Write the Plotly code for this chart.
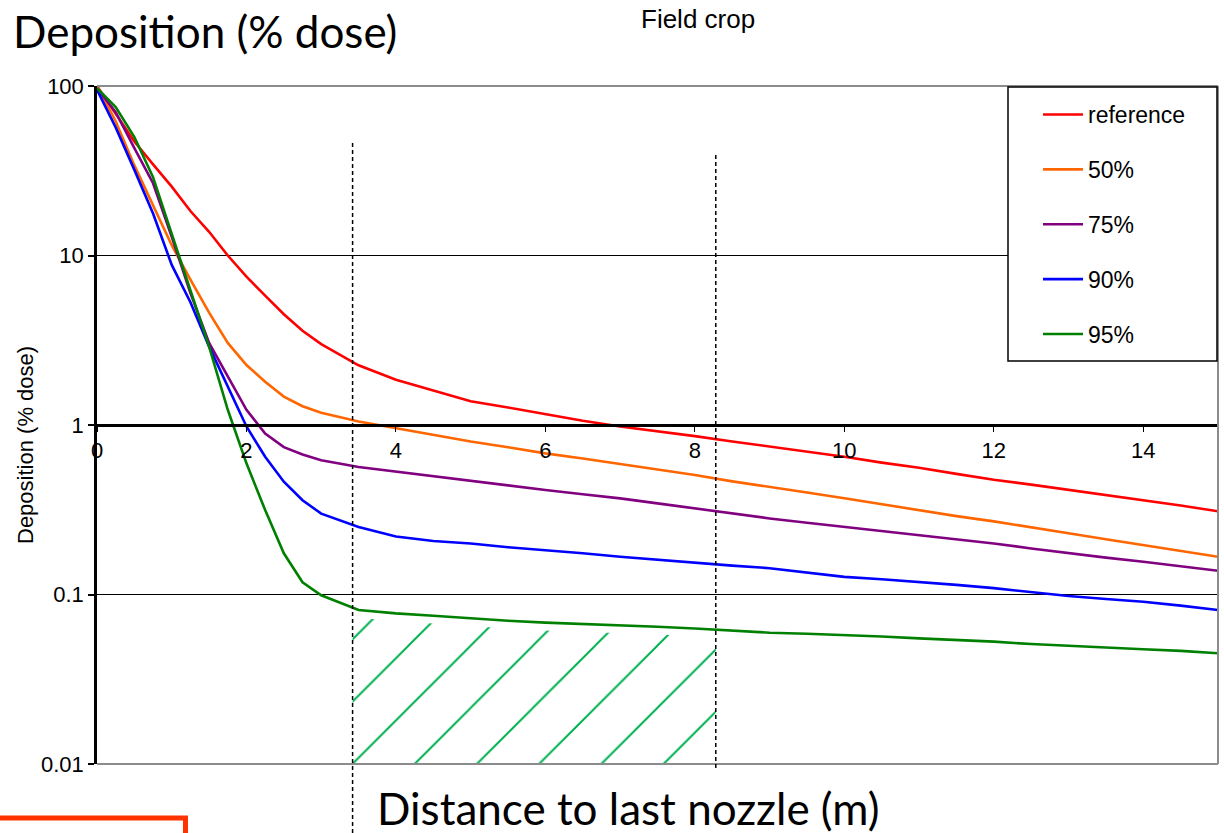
import numpy as np
import plotly.graph_objects as go

# ---------------- data ----------------
distance = [0, 0.25, 0.5, 0.75, 1, 1.25, 1.5, 1.75, 2, 2.25, 2.5, 2.75, 3, 3.5, 4, 4.5, 5, 5.5,
            6, 6.5, 7, 7.5, 8, 8.5, 9, 9.5, 10, 10.5, 11, 11.5, 12, 12.5, 13, 13.5, 14, 14.5, 15]

reference = [100, 68, 47, 34.5, 25.5, 18.3, 13.8, 10, 7.5, 5.8, 4.5, 3.6, 3.0, 2.25, 1.85, 1.6, 1.38, 1.27,
             1.16, 1.06, 0.98, 0.92, 0.86, 0.8, 0.745, 0.7, 0.65, 0.6, 0.56, 0.515, 0.475, 0.445, 0.415,
             0.385, 0.36, 0.335, 0.31]
red50 = [100, 62, 34, 20, 11.5, 7.2, 4.6, 3.05, 2.26, 1.8, 1.47, 1.29, 1.18, 1.05, 0.96, 0.88, 0.8, 0.74,
         0.68, 0.635, 0.59, 0.55, 0.507, 0.465, 0.433, 0.4, 0.37, 0.34, 0.315, 0.29, 0.27, 0.25, 0.23,
         0.212, 0.196, 0.18, 0.167]
red75 = [97, 70, 43, 26.7, 12.9, 6.0, 3.05, 1.93, 1.23, 0.89, 0.74, 0.67, 0.62, 0.565, 0.53, 0.5, 0.47, 0.44,
         0.414, 0.39, 0.369, 0.345, 0.322, 0.3, 0.281, 0.265, 0.251, 0.237, 0.224, 0.212, 0.2, 0.187, 0.175,
         0.165, 0.156, 0.147, 0.138]
red90 = [95, 57, 32, 17.7, 8.8, 5.3, 2.9, 1.7, 0.98, 0.65, 0.463, 0.36, 0.3, 0.25, 0.22, 0.207, 0.2, 0.19,
         0.183, 0.175, 0.167, 0.16, 0.153, 0.148, 0.143, 0.135, 0.127, 0.123, 0.119, 0.114, 0.109, 0.103, 0.098,
         0.094, 0.0907, 0.086, 0.081]
red95 = [97, 75, 50, 29, 13.4, 6.3, 2.9, 1.23, 0.594, 0.315, 0.175, 0.118, 0.099, 0.081, 0.0774, 0.075, 0.0724, 0.070,
         0.0682, 0.067, 0.066, 0.0645, 0.063, 0.0612, 0.0595, 0.0587, 0.0577, 0.0565, 0.0551, 0.054, 0.0527, 0.051, 0.0497,
         0.0487, 0.0475, 0.0465, 0.045]

series_names = ["reference", "50%", "75%", "90%", "95%"]
series_values = [reference, red50, red75, red90, red95]
series_colors = ["#FF0000", "#FF6600", "#800080", "#0000FF", "#008000"]

zone_bounds = [3.42, 8.28]          # dashed boundary lines (m)
y_tickvals = [0.01, 0.1, 1, 10, 100]
y_ticktext = ["0.01", "0.1", "1", "10", "100"]
x_tickvals = [0, 2, 4, 6, 8, 10, 12, 14]

# ---------------- figure ----------------
fig = go.Figure()

# hatched area under the 95% curve between the two boundaries
dx = np.array(distance, dtype=float)
ly = np.log10(np.array(red95, dtype=float))
inside = (dx > zone_bounds[0]) & (dx < zone_bounds[1])
hx = np.concatenate([[zone_bounds[0]], dx[inside], [zone_bounds[1]]])
hy = 10 ** np.interp(hx, dx, ly)
poly_x = np.concatenate([[zone_bounds[0]], hx, [zone_bounds[1]]])
poly_y = np.concatenate([[0.01], hy * 0.9, [0.01]])
fig.add_trace(go.Scatter(
    x=poly_x, y=poly_y, mode="lines", fill="toself",
    line=dict(width=0, color="rgba(0,0,0,0)"),
    fillcolor="rgba(0,0,0,0)",
    fillpattern=dict(shape="/", fgcolor="#00B050", fgopacity=1, bgcolor="rgba(0,0,0,0)",
                     size=44, solidity=0.045),
    showlegend=False, hoverinfo="skip"))

for i, (name, vals, col) in enumerate(zip(series_names, series_values, series_colors)):
    fig.add_trace(go.Scatter(x=distance, y=vals, mode="lines", name=name,
                             line=dict(color=col, width=2.6), legendgroup=f"g{i}"))

W, H = 1224, 833
L, R, T, B = 97, 6, 86, 69
pw, ph = W - L - R, H - T - B


def px(xp):
    return (xp - L) / pw


def py(yp):
    return (H - B - yp) / ph


shapes = []
# plot border (grey) top, right, bottom
for (x0, y0, x1, y1) in [(0, 1, 1, 1), (1, 0, 1, 1), (0, 0, 1, 0)]:
    shapes.append(dict(type="line", xref="paper", yref="paper", x0=x0, y0=y0, x1=x1, y1=y1,
                       line=dict(color="#8C8C8C", width=2), layer="above"))
# dashed boundary lines
shapes.append(dict(type="line", xref="x", yref="paper", x0=zone_bounds[0], x1=zone_bounds[0],
                   y0=py(840), y1=py(140), line=dict(color="black", width=1.5, dash="4px,3px"), layer="above"))
shapes.append(dict(type="line", xref="x", yref="paper", x0=zone_bounds[1], x1=zone_bounds[1],
                   y0=py(768), y1=py(152), line=dict(color="black", width=1.5, dash="4px,3px"), layer="above"))
# legend box
shapes.append(dict(type="rect", xref="paper", yref="paper", x0=px(1008), x1=px(1217), y0=py(361), y1=py(87),
                   line=dict(color="black", width=1.5), fillcolor="white", layer="above"))
# red box at bottom-left
shapes.append(dict(type="rect", xref="paper", yref="paper", x0=px(-20), x1=px(185.5), y0=py(860), y1=py(818),
                   line=dict(color="#FF3300", width=5), fillcolor="rgba(0,0,0,0)", layer="above"))

annotations = [
    dict(text="Deposition (% dose)", xref="paper", yref="paper", x=px(11), y=py(31),
         xanchor="left", yanchor="middle", showarrow=False,
         font=dict(family="Lato", size=44, color="black")),
    dict(text="Field crop", xref="paper", yref="paper", x=px(698), y=py(19),
         xanchor="center", yanchor="middle", showarrow=False,
         font=dict(family="Liberation Sans", size=26, color="black")),
    dict(text="Distance to last nozzle (m)", xref="paper", yref="paper", x=px(628), y=py(808),
         xanchor="center", yanchor="middle", showarrow=False,
         font=dict(family="Lato", size=44, color="black")),
    dict(text="Deposition (% dose)", xref="paper", yref="paper", x=px(25), y=py(445),
         xanchor="center", yanchor="middle", showarrow=False, textangle=-90,
         font=dict(family="Liberation Sans", size=22, color="black")),
]

fig.update_layout(
    width=W, height=H,
    margin=dict(l=L, r=R, t=T, b=B, autoexpand=False),
    paper_bgcolor="white", plot_bgcolor="white",
    font=dict(family="Liberation Sans", size=20, color="black"),
    shapes=shapes, annotations=annotations,
    showlegend=True,
    legend=dict(x=px(1038), y=py(93), xanchor="left", yanchor="top",
                bgcolor="rgba(0,0,0,0)", borderwidth=0,
                font=dict(family="Liberation Sans", size=23, color="black"),
                itemwidth=40, tracegroupgap=22, traceorder="grouped"),
    xaxis=dict(range=[0, 15], tickvals=x_tickvals, showgrid=False, zeroline=False,
               showline=True, linecolor="black", linewidth=2.5,
               anchor="free", position=0.5,
               ticks="outside", ticklen=5, tickcolor="black", tickwidth=1,
               tickfont=dict(family="Liberation Sans", size=22, color="black")),
    yaxis=dict(type="log", range=[-2, 2], tickvals=y_tickvals, ticktext=y_ticktext,
               showgrid=True, gridcolor="black", gridwidth=1.2, zeroline=False,
               showline=True, linecolor="black", linewidth=2.5,
               ticks="outside", ticklen=6, tickcolor="black", tickwidth=1.5,
               tickfont=dict(family="Liberation Sans", size=22, color="black")),
)

fig.write_html("out.html", config={"displayModeBar": False},
               post_script="document.body.style.margin='0';document.body.style.overflow='hidden';")
